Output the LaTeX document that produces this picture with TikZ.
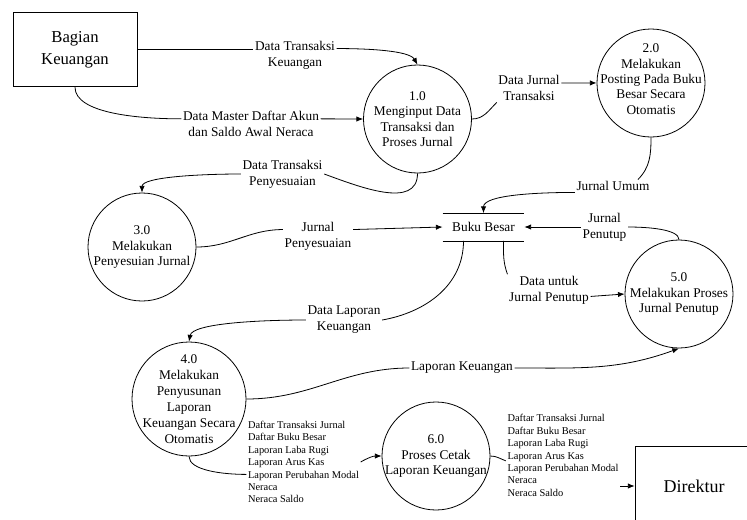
\documentclass[tikz,border=0pt]{standalone}
\usepackage{fontspec}
\setmainfont{Liberation Serif}
\usetikzlibrary{arrows.meta}

\begin{document}
\begin{tikzpicture}[x=0.75pt, y=0.75pt, line width=0.6pt, >={Latex[length=5pt,width=4pt]},
  proc/.style={draw, circle, minimum size=81pt, inner sep=0pt},
  ptxt/.style={align=center, inner sep=0pt, font=\fontsize{10}{11.5}\selectfont},
  ent/.style={draw, minimum width=93pt, minimum height=56pt, align=center, font=\fontsize{12.5}{16.5}\selectfont},
  flow/.style={align=center, inner sep=1pt, font=\fontsize{10}{12}\selectfont},
  lst/.style={align=left, inner sep=1pt, font=\fontsize{7.8}{9.3}\selectfont}]
\useasboundingbox (0,0) rectangle (747,-519);

% external entities
\node[ent] (bk) at (75,-49.5) {Bagian\\Keuangan};
\node[ent, minimum width=88.5pt, minimum height=60pt, font=\fontsize{13.5}{16}\selectfont] (dir) at (694,-486) {Direktur};

% processes
\node[proc, label={[ptxt]center:1.0\\Menginput Data\\Transaksi dan\\Proses Jurnal}] (p1) at (417.5,-119) {};
\node[proc, label={[ptxt, yshift=3pt]center:2.0\\Melakukan\\Posting Pada Buku\\Besar Secara\\Otomatis}] (p2) at (651,-83) {};
\node[proc, label={[ptxt]center:3.0\\Melakukan\\Penyesuian Jurnal}] (p3) at (142,-247) {};
\node[proc, minimum size=85.5pt, label={[ptxt, font=\fontsize{10}{12}\selectfont]center:4.0\\Melakukan\\Penyusunan\\Laporan\\Keuangan Secara\\Otomatis}] (p4) at (189,-399) {};
\node[proc, label={[ptxt]center:5.0\\Melakukan Proses\\Jurnal Penutup}] (p5) at (679,-294) {};
\node[proc, label={[ptxt]center:6.0\\Proses Cetak\\Laporan Keuangan}] (p6) at (436,-456) {};

% data store
\node[minimum width=60.75pt, minimum height=20.25pt, inner sep=0pt, font=\fontsize{10}{12}\selectfont] (bb) at (483.5,-227) {Buku Besar};
\draw (bb.north west) -- (bb.north east) (bb.south west) -- (bb.south east);

% flow labels
\node[flow] (l1) at (295,-55) {Data Transaksi\\Keuangan};
\node[flow] (l2) at (251,-124) {Data Master Daftar Akun\\dan Saldo Awal Neraca};
\node[flow] (l3) at (529,-88) {Data Jurnal\\Transaksi};
\node[flow] (l4) at (613,-186) {Jurnal Umum};
\node[flow] (l5) at (318,-236) {Jurnal\\Penyesuaian};
\node[flow] (l6) at (604.5,-227) {Jurnal\\Penutup};
\node[flow] (l7) at (549,-290) {Data untuk\\Jurnal Penutup};
\node[flow] (l8) at (344,-320) {Data Laporan\\Keuangan};
\node[flow] (l9) at (462,-368) {Laporan Keuangan};
\node[flow] (l12) at (282.5,-174) {Data Transaksi\\Penyesuaian};
\node[lst] (l10) at (303.5,-462) {Daftar Transaksi Jurnal\\Daftar Buku Besar\\Laporan Laba Rugi\\Laporan Arus Kas\\Laporan Perubahan Modal\\Neraca\\Neraca Saldo};
\node[lst] (l11) at (563,-455.5) {Daftar Transaksi Jurnal\\Daftar Buku Besar\\Laporan Laba Rugi\\Laporan Arus Kas\\Laporan Perubahan Modal\\Neraca\\Neraca Saldo};

% flows
\draw (bk.east) -- (l1.west |- bk.east);
\draw [->]([yshift=-7pt]l1.north east) to[out=0, in=120, in looseness=.5] (p1.north);
\draw (bk.south) to[out=-90, in=180, out looseness=.6] ([yshift=-7pt]l2.north west);
\draw [->]([yshift=-7pt]l2.north east) -- (p1.west);
\draw (p1.east) to[out=0, in=225] (l3.south west);
\draw [->]([yshift=-7pt]l3.north east) -- (p2);
\draw (p2.south) to[out=-90, in=45] ([xshift=-10pt]l4.north east);
\draw [->](l4.south west) to[out=180, in=90, in looseness=.5] (bb.north);
\draw (p1.south) to[out=-90, in=-20] (l12.east);
\draw [->](l12.west) to[out=180, in=90, in looseness=.4] (p3.north);
\draw (p3.east) to[out=0, in=180] ([yshift=-7pt]l5.north west);
\draw [->]([yshift=-7pt]l5.north east) -- (bb.west);
\draw (p5.north) to[out=90, in=0, out looseness=.5] (l6.east);
\draw [->](l6.west) -- (bb.east);
\draw ([xshift=15pt]bb.south) to[out=-90, in=110] (l7.north west);
\draw [->]([yshift=7pt]l7.south east) -- (p5.west);
\draw ([xshift=-15pt]bb.south) to[out=-90, in=10] (l8.east);
\draw [->](l8.west) to[out=180, in=80, in looseness=.4] (p4.north);
\draw (p4.east) to[out=0, in=180] (l9.west);
\draw [->](l9.east) to[out=0, in=-160] (p5.south);
\draw (p4.south) to[out=-90, in=180, out looseness=.6] ([yshift=-9.3pt]l10.west);
\draw [->](l10.east) to[out=30, in=180] (p6.west);
\draw (p6.east) to[out=0, in=160] ([yshift=-4pt]l11.west);
\draw [->](l11.east |- dir.west) -- (dir.west);
\end{tikzpicture}
\end{document}
